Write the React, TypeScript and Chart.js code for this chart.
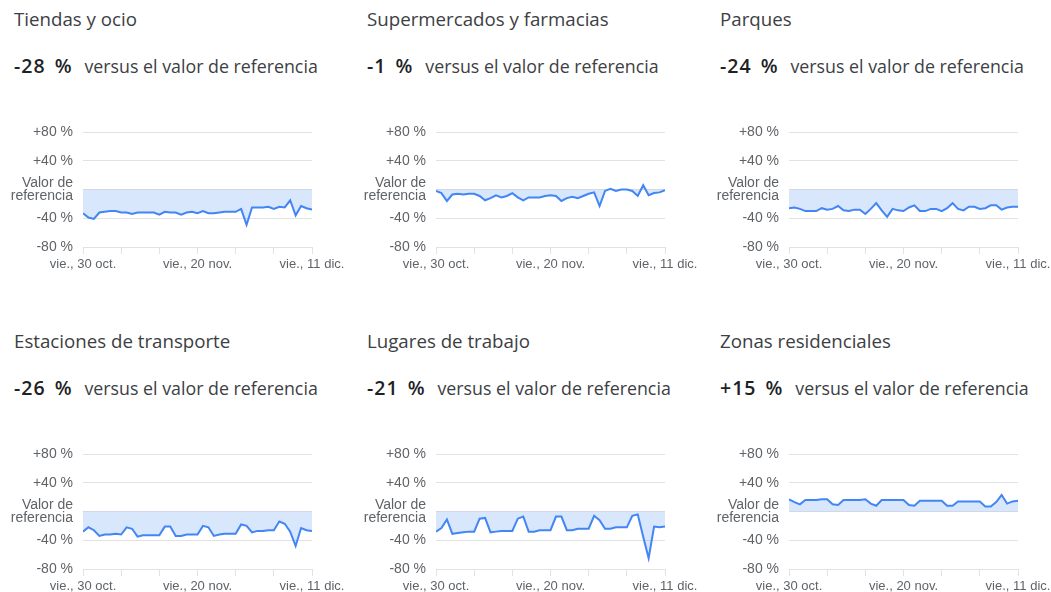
import React, { useEffect, useRef } from 'react';
import { Chart, registerables } from 'chart.js';

Chart.register(...registerables);

// ---- Data ----
const categories = [
  'Tiendas y ocio',
  'Supermercados y farmacias',
  'Parques',
  'Estaciones de transporte',
  'Lugares de trabajo',
  'Zonas residenciales',
];
const headlines = ['-28 %', '-1 %', '-24 %', '-26 %', '-21 %', '+15 %'];
const subtitle = 'versus el valor de referencia';

// days since vie., 30 oct. (0..42)
const retail = [-33, -39, -41, -32, -31, -30, -30, -32, -32, -34, -32, -32, -32, -32, -35, -31, -32, -32, -35, -32, -31, -33, -30, -33, -33, -32, -31, -31, -31, -27, -49, -25, -25, -25, -24, -27, -24, -25, -15, -36, -23, -26, -28];
const grocery = [-2, -5, -16, -7, -6, -7, -6, -6, -9, -15, -12, -8, -11, -9, -5, -11, -15, -11, -11, -11, -9, -8, -9, -16, -12, -10, -12, -9, -6, -4, -23, -2, 1, -2, 0, 0, -2, -9, 6, -8, -5, -4, -1];
const parks = [-26, -25, -27, -30, -30, -30, -26, -28, -27, -23, -29, -30, -28, -28, -34, -27, -19, -29, -38, -27, -29, -30, -25, -22, -30, -30, -27, -27, -30, -26, -19, -27, -29, -24, -24, -27, -26, -22, -22, -28, -25, -24, -24];
const transit = [-28, -22, -26, -34, -32, -32, -31, -32, -22, -24, -35, -33, -33, -33, -33, -21, -21, -34, -34, -32, -32, -32, -20, -22, -34, -32, -31, -31, -31, -18, -20, -29, -27, -27, -26, -26, -14, -17, -28, -48, -23, -26, -27];
const workplaces = [-28, -23, -11, -31, -30, -29, -28, -28, -10, -9, -29, -28, -27, -27, -27, -10, -7, -28, -28, -26, -26, -26, -7, -7, -26, -26, -24, -24, -24, -6, -12, -24, -24, -22, -22, -22, -6, -4, -35, -65, -21, -22, -21];
const residential = [17, 13, 10, 16, 16, 16, 17, 17, 10, 9, 16, 16, 16, 16, 17, 11, 8, 16, 16, 16, 16, 16, 9, 8, 15, 15, 15, 15, 15, 8, 8, 14, 14, 14, 14, 14, 7, 7, 13, 23, 11, 14, 15];

const seriesList = [retail, grocery, parks, transit, workplaces, residential];

// weekly x tick labels (every 7 days)
const xTickLabels = ['vie., 30 oct.', '', '', 'vie., 20 nov.', '', '', 'vie., 11 dic.'];
// y tick values and labels
const yTickValues = [80, 40, 0, -40, -80];
const yTickLabels: (string | string[])[] = ['+80 %', '+40 %', ['Valor de', 'referencia'], '-40 %', '-80 %'];

const colX = [14, 367, 720];
const rowY = [0, 322];

const LINE = '#4285f4';
const FILL = 'rgba(66,133,244,0.2)';
const GRID = '#e2e2e2';
const TICKTXT = '#5f6368';
const AXISFONT = "'Liberation Sans', Arial, sans-serif";
const TEXTFONT = "'Open Sans', 'Noto Sans', sans-serif";

function MiniChart({ values }: { values: number[] }) {
  const ref = useRef<HTMLCanvasElement | null>(null);
  useEffect(() => {
    if (!ref.current) return;
    const chart = new Chart(ref.current, {
      type: 'line',
      data: {
        datasets: [
          {
            data: values.map((v, i) => ({ x: i, y: v })),
            borderColor: LINE,
            backgroundColor: FILL,
            borderWidth: 2,
            pointRadius: 0,
            tension: 0,
            fill: 'origin',
          },
        ],
      },
      options: {
        animation: false,
        responsive: false,
        events: [],
        layout: { padding: { top: 32, right: 34, left: 0, bottom: 0 } },
        plugins: { legend: { display: false }, tooltip: { enabled: false } },
        scales: {
          x: {
            type: 'linear',
            min: 0,
            max: (xTickLabels.length - 1) * 7,
            afterBuildTicks: (scale: any) => {
              scale.ticks = xTickLabels.map((_, i) => ({ value: i * 7 }));
            },
            afterFit: (scale: any) => {
              scale.height = 28;
              scale.paddingLeft = 0;
              scale.paddingRight = 0;
            },
            grid: {
              drawOnChartArea: false,
              drawTicks: true,
              tickLength: 7,
              color: GRID,
            },
            border: { display: true, color: GRID },
            ticks: {
              autoSkip: false,
              maxRotation: 0,
              padding: 3,
              color: TICKTXT,
              font: { family: AXISFONT, size: 13 },
              callback: (v: any) => {
                const idx = Math.round(Number(v) / 7);
                return xTickLabels[idx] ?? '';
              },
            },
          },
          y: {
            min: -80,
            max: 80,
            afterBuildTicks: (scale: any) => {
              scale.ticks = yTickValues.map((v) => ({ value: v }));
            },
            afterFit: (scale: any) => {
              scale.width = 79;
            },
            grid: { drawTicks: false, color: GRID },
            border: { display: false },
            ticks: {
              autoSkip: false,
              padding: 10,
              color: TICKTXT,
              font: { family: AXISFONT, size: 14, lineHeight: 0.95 },
              callback: (v: any) => {
                const idx = yTickValues.indexOf(Number(v));
                return idx >= 0 ? (yTickLabels[idx] as any) : '';
              },
            },
          },
        },
      },
    });
    return () => chart.destroy();
  }, [values]);
  return <canvas ref={ref} width={342} height={175} style={{ display: 'block', width: 342, height: 175 }} />;
}

export default function App() {
  return (
    <div
      style={{
        position: 'fixed',
        left: 0,
        top: 0,
        width: 1051,
        height: 592,
        overflow: 'hidden',
        background: '#ffffff',
      }}
    >
      {categories.map((cat, i) => {
        const cx = colX[i % 3];
        const ry = rowY[Math.floor(i / 3)];
        return (
          <React.Fragment key={cat}>
            <div
              style={{
                position: 'absolute',
                left: cx,
                top: ry + 9.5,
                fontFamily: TEXTFONT,
                fontSize: 18.7,
                lineHeight: 1,
                color: '#3c4043',
                whiteSpace: 'nowrap',
              }}
            >
              {cat}
            </div>
            <div
              style={{
                position: 'absolute',
                left: cx,
                top: ry + 55.5,
                display: 'flex',
                alignItems: 'baseline',
                fontFamily: TEXTFONT,
                whiteSpace: 'nowrap',
                color: '#3c4043',
              }}
            >
              <span
                style={{
                  fontSize: 19.5,
                  fontWeight: 600,
                  lineHeight: 1,
                  color: '#202124',
                  marginRight: 12,
                  letterSpacing: 1,
                  wordSpacing: 3,
                }}
              >
                {headlines[i]}
              </span>
              <span style={{ fontSize: 17.8, lineHeight: 1 }}>{subtitle}</span>
            </div>
            <div style={{ position: 'absolute', left: cx - 10, top: ry + 100 }}>
              <MiniChart values={seriesList[i]} />
            </div>
          </React.Fragment>
        );
      })}
    </div>
  );
}
